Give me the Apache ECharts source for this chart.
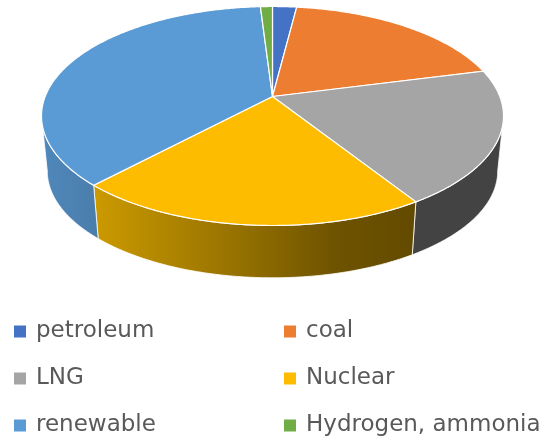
<!DOCTYPE html>
<html>
<head>
<meta charset="utf-8">
<style>html,body{margin:0;padding:0;background:#fff}#chart{width:546px;height:439px}</style>
<script src="https://cdn.jsdelivr.net/npm/echarts@6/dist/echarts.min.js"></script>
</head>
<body>
<div id="chart"></div>
<script>
// Share of each energy source in the mix (percent)
const categories = ['petroleum', 'coal', 'LNG', 'Nuclear', 'renewable', 'Hydrogen, ammonia'];
const shares = [2, 19, 20, 21, 37, 1];
const topColors = ['#4472c4', '#ed7d31', '#a5a5a5', '#fdbc00', '#5b9bd5', '#70ad47'];
const leftLegend = ['petroleum', 'LNG', 'renewable'];
const rightLegend = ['coal', 'Nuclear', 'Hydrogen, ammonia'];

// Outer wall shading, left to right, per source
const wallStops = {
  petroleum: ['#365b9d', '#365b9d'],
  coal: ['#be6427', '#be6427'],
  LNG: ['#434343', '#434343'],
  Nuclear: ['#cc9a00', '#ad8300', '#8f6c00', '#6e5300', '#624a00'],
  renewable: ['#5088bb', '#4a7dab'],
  'Hydrogen, ammonia': ['#5a8a39', '#5a8a39']
};

// Pie geometry: a disc seen in perspective, with a lower rim for thickness
const CX = 272.5, CY = 96.5;
const HALF_W = 231, NEAR = 129, FAR = 90;
const TILT = (NEAR - FAR) / (NEAR + FAR);
const DEPTH_K = NEAR * (1 - TILT);
const WIDTH_K = HALF_W * Math.sqrt(1 - TILT * TILT);
const BASE_SCALE = 0.975, BASE_DROP = 55.5;

const total = shares.reduce((a, b) => a + b, 0);

function rimPoint(theta, scale, drop) {
  const u = Math.sin(theta), v = -Math.cos(theta);
  const w = 1 - TILT * v;
  return [CX + scale * WIDTH_K * u / w, CY + drop + scale * DEPTH_K * v / w];
}

function arc(from, to, scale, drop) {
  const steps = Math.max(2, Math.ceil((to - from) / 0.01));
  const pts = [];
  for (let i = 0; i <= steps; i++) pts.push(rimPoint(from + (to - from) * i / steps, scale, drop));
  return pts;
}

function wallFill(name) {
  const stops = wallStops[name];
  return new echarts.graphic.LinearGradient(0, 0, 1, 0,
    stops.map((color, i) => ({ offset: i / (stops.length - 1), color })));
}

function sliceRenderer(index) {
  const before = shares.slice(0, index).reduce((a, b) => a + b, 0);
  return function (params, api) {
    const value = api.value(0);
    const from = before / total * Math.PI * 2;
    const to = (before + value) / total * Math.PI * 2;
    const children = [];

    // The wall spans the rim between the disc's widest points, which sit nearer the viewer
    const widest = Math.asin(TILT);
    const wallFrom = Math.max(from, Math.PI / 2 + widest);
    const wallTo = Math.min(to, Math.PI * 1.5 - widest);
    if (wallTo > wallFrom) {
      const upper = arc(wallFrom, wallTo, 1, 0);
      const lower = arc(wallFrom, wallTo, BASE_SCALE, BASE_DROP).reverse();
      children.push({
        type: 'polygon',
        z2: 1,
        shape: { points: upper.concat(lower) },
        style: { fill: wallFill(categories[index]), stroke: '#ffffff', lineWidth: 0.8, opacity: 1 },
        silent: true
      });
    }

    children.push({
      type: 'polygon',
      z2: 2,
      shape: { points: [[CX, CY]].concat(arc(from, to, 1, 0)) },
      style: { fill: topColors[index], stroke: '#ffffff', lineWidth: 1.2 },
      silent: true
    });
    return { type: 'group', children };
  };
}

const legendBase = {
  orient: 'vertical',
  top: 318,
  itemWidth: 12,
  itemHeight: 12,
  itemGap: 20,
  icon: 'rect',
  selectedMode: false,
  padding: 0,
  textStyle: { fontFamily: 'DejaVu Sans', fontSize: 23, color: '#595959', lineHeight: 24, padding: [3, 0, 0, 5] }
};

const chart = echarts.init(document.getElementById('chart'), null, { renderer: 'canvas' });
chart.setOption({
  animation: false,
  backgroundColor: '#ffffff',
  legend: [
    Object.assign({}, legendBase, { left: 14, data: leftLegend }),
    Object.assign({}, legendBase, { left: 284, data: rightLegend })
  ],
  series: categories.map((name, i) => ({
    type: 'custom',
    name,
    coordinateSystem: 'none',
    silent: true,
    itemStyle: { color: topColors[i] },
    renderItem: sliceRenderer(i),
    data: [[shares[i]]]
  }))
});
</script>
</body>
</html>
